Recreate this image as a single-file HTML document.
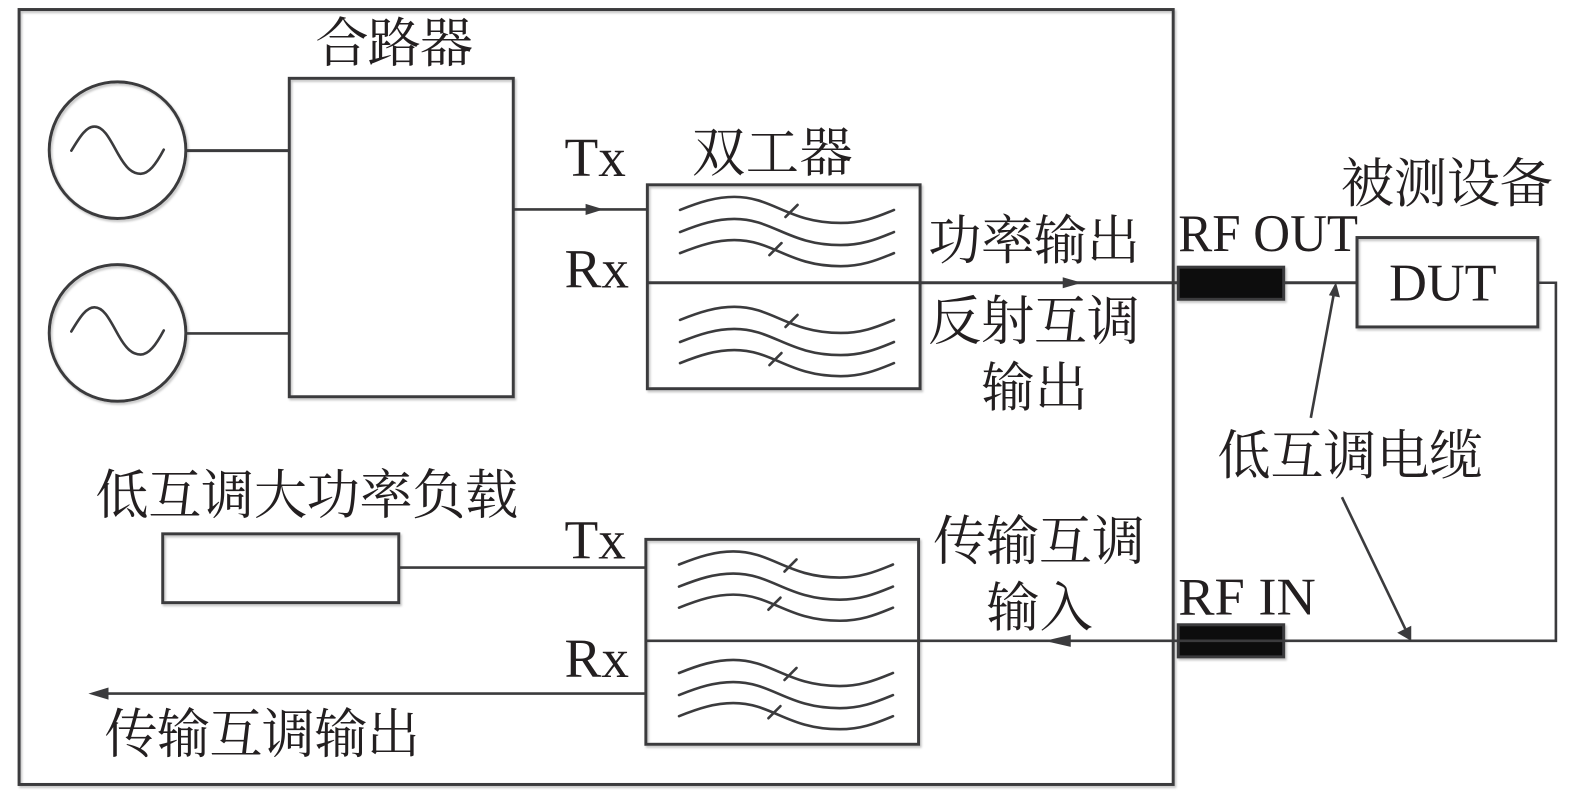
<!DOCTYPE html>
<html lang="zh">
<head>
<meta charset="utf-8">
<title>互调测试系统框图</title>
<style>
html,body{margin:0;padding:0;background:#fff;width:1575px;height:791px;overflow:hidden}
svg{display:block}
text{font-family:"Liberation Serif","Noto Serif CJK SC",serif;font-size:53px;fill:#231f20}
.x{font-size:55px}
.l{fill:none;stroke:#3b3b3d;stroke-width:3}
.t{fill:none;stroke:#3b3b3d;stroke-width:2.6}
.w{fill:none;stroke:#3b3b3d;stroke-width:2.6;stroke-linecap:round}
</style>
</head>
<body>
<svg width="1575" height="791" viewBox="0 0 1568 787.5" xmlns="http://www.w3.org/2000/svg">
<defs>
<filter id="s" x="-2%" y="-2%" width="104%" height="104%">
<feDropShadow dx="1.5" dy="2" stdDeviation="1" flood-color="#c4c4c4"/>
</filter>
<g id="wv">
<path class="w" d="M677 209C697 201 713 196 731 196C770 196 785 222 837 222C857 222 871 217 890 209"/>
<path class="w" d="M677 231C697 223 713 218 731 218C770 218 785 244 837 244C857 244 871 239 890 231"/>
<path class="w" d="M677 252C697 244 713 239 731 239C770 239 785 265 837 265C857 265 871 260 890 252"/>
<path class="w" d="M782 216L794 204M766 254L778 242"/>
</g>
<g id="sine">
<path class="w" d="M71 150C80 135 86 126 94 126C104 126 110 140 118 154C126 168 132 173 140 173C148 173 155 164 163 149"/>
</g>
</defs>

<g filter="url(#s)">
<rect class="l" x="19" y="9.500" width="1149" height="771.500"/>
<circle class="l" cx="117" cy="149.500" r="68"/>
<circle class="l" cx="117" cy="331.500" r="68"/>
<rect class="l" x="288" y="78" width="223" height="317"/>
<rect class="l" x="644.500" y="184" width="271.500" height="203"/>
<rect class="l" x="643" y="537" width="271.500" height="204"/>
<rect class="l" x="162" y="531.500" width="235" height="68.500"/>
<rect class="l" x="1351" y="236.500" width="180" height="89"/>
<rect x="1173" y="266" width="105" height="32" fill="#0c0c0c" stroke="#3b3b3d" stroke-width="3"/>
<rect x="1173" y="622" width="105" height="32" fill="#0c0c0c" stroke="#3b3b3d" stroke-width="3"/>
</g>

<path class="l" d="M186 150H288"/>
<path class="t" d="M186 332H288"/>
<use href="#sine"/>
<use href="#sine" y="180"/>

<path class="t" d="M511 208.500H644.500"/>
<path d="M583 203L601 208.500L583 214Z" fill="#3b3b3d"/>
<path class="l" d="M644.500 281.500H1173M1278 281.500H1351"/>
<path d="M1058 276L1077 281.500L1058 287Z" fill="#3b3b3d"/>
<path class="t" d="M1531 281.500H1549V638H643"/>
<path d="M1066 632L1040 638L1066 644Z" fill="#3b3b3d"/>
<path class="t" d="M397 565H643"/>
<path class="t" d="M100 690.500H643"/>
<path d="M108 684.500L88 690.500L108 696.500Z" fill="#3b3b3d"/>

<use href="#wv"/>
<use href="#wv" y="109.500"/>
<use href="#wv" x="-1" y="353"/>
<use href="#wv" x="-1" y="461"/>

<path class="t" d="M1305 416L1328 292" stroke-width="2.200"/>
<path d="M1330 281L1334 296L1323 294Z" fill="#3b3b3d"/>
<path class="t" d="M1336 495L1399 626"/>
<path d="M1405 638L1391 630L1405 623Z" fill="#3b3b3d"/>

<text x="314" y="61" textLength="157">合路器</text>
<text class="x" x="562" y="175">Tx</text>
<text class="x" x="562" y="286">Rx</text>
<text x="689" y="170" textLength="160">双工器</text>
<text x="1335" y="201" textLength="211">被测设备</text>
<text x="924" y="258" textLength="211">功率输出</text>
<text x="924" y="338" textLength="211">反射互调</text>
<text x="977" y="404" textLength="106">输出</text>
<text x="1173" y="250" textLength="179" lengthAdjust="spacingAndGlyphs">RF OUT</text>
<text x="1383" y="299" textLength="107" lengthAdjust="spacingAndGlyphs">DUT</text>
<text x="1212" y="472" textLength="264">低互调电缆</text>
<text x="95" y="511" textLength="421">低互调大功率负载</text>
<text class="x" x="562" y="556">Tx</text>
<text class="x" x="562" y="674">Rx</text>
<text x="929" y="557" textLength="211">传输互调</text>
<text x="982" y="623" textLength="106">输入</text>
<text x="1173" y="612" textLength="137" lengthAdjust="spacingAndGlyphs">RF IN</text>
<text x="104" y="749" textLength="314">传输互调输出</text>
</svg>
</body>
</html>
